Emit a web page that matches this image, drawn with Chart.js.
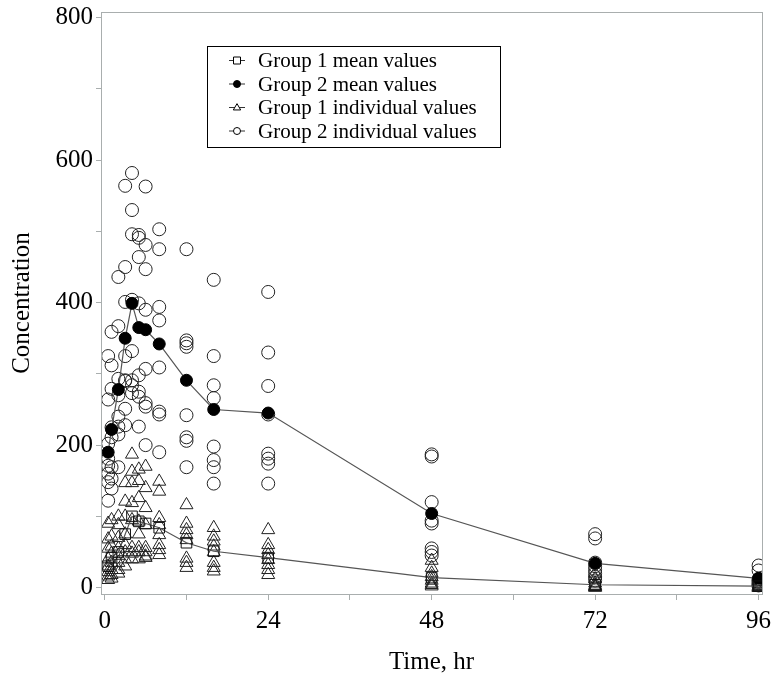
<!DOCTYPE html>
<html>
<head>
<meta charset="utf-8">
<script src="https://cdn.jsdelivr.net/npm/chart.js@4/dist/chart.umd.min.js"></script>
<style>
  html, body { margin: 0; padding: 0; background: #fff; }
  #wrap { width: 774px; height: 681px; }
</style>
</head>
<body>
<div id="wrap"><canvas id="grafico" width="774" height="681"></canvas></div>
<script>
// sampling times, hr
var tiempos = [0.5, 1, 2, 3, 4, 5, 6, 8, 12, 16, 24, 48, 72, 96];

// mean curves
var mediaGrupo1 = [30, 42, 50, 75, 100, 93, 90, 84, 63, 51, 42, 14, 4, 2];
var mediaGrupo2 = [190, 222, 278, 350, 399, 365, 362, 342, 291, 250, 245, 104, 34, 13];

// individual values, one row per sampling time
var indivGrupo1 = [
  [90, 68, 55, 40, 30, 22, 16, 11],
  [95, 72, 58, 48, 35, 25, 18, 13],
  [100, 88, 70, 55, 45, 35, 25, 20],
  [147, 121, 100, 75, 60, 50, 40, 30],
  [187, 163, 147, 119, 95, 56, 48, 40],
  [166, 150, 126, 93, 75, 56, 50, 40],
  [170, 140, 112, 88, 56, 50, 44, 42],
  [149, 135, 98, 88, 74, 60, 53, 46],
  [116, 90, 81, 74, 67, 41, 35, 28],
  [84, 72, 65, 58, 50, 35, 28, 23],
  [81, 60, 53, 46, 39, 32, 25, 18],
  [38, 28, 20, 15, 10, 6, 4, 2],
  [20, 12, 6, 3, 2, 1, 1, 0],
  [8, 5, 3, 2, 1, 1, 0, 0]
];
var indivGrupo2 = [
  [325, 264, 202, 181, 171, 160, 148, 122],
  [359, 312, 279, 225, 211, 169, 153, 139],
  [436, 367, 293, 270, 240, 226, 215, 169],
  [564, 450, 401, 325, 291, 290, 251, 228],
  [582, 530, 496, 404, 332, 291, 284, 273],
  [495, 491, 464, 399, 298, 275, 268, 226],
  [563, 481, 447, 390, 307, 259, 254, 200],
  [503, 475, 394, 375, 309, 247, 243, 190],
  [475, 347, 343, 338, 242, 211, 206, 169],
  [432, 325, 284, 266, 198, 179, 169, 146],
  [415, 330, 283, 243, 188, 181, 174, 146],
  [187, 184, 120, 94, 90, 55, 50, 45],
  [75, 69, 35, 30, 25, 20, 15, 10],
  [31, 24, 12, 10, 8, 6, 4, 3]
];

// labelled ticks
var ticksX = [0, 24, 48, 72, 96];
var ticksY = [0, 200, 400, 600, 800];

var fuente = 'Liberation Serif';
var gris = '#a9aeae';

function curva(valores) {
  return tiempos.map(function(t, i) { return {x: t, y: valores[i]}; });
}
function nube(filas) {
  var out = [];
  for (var i = 0; i < tiempos.length; i++) {
    for (var j = 0; j < filas[i].length; j++) out.push({x: tiempos[i], y: filas[i][j]});
  }
  return out;
}

function marcador(ctx, estilo, x, y, r, relleno) {
  ctx.beginPath();
  if (estilo === 'rect') {
    ctx.rect(x - r, y - r, 2 * r, 2 * r);
  } else if (estilo === 'triangle') {
    ctx.moveTo(x, y - r * 1.1);
    ctx.lineTo(x + r * 1.05, y + r * 0.7);
    ctx.lineTo(x - r * 1.05, y + r * 0.7);
    ctx.closePath();
  } else {
    ctx.arc(x, y, r, 0, Math.PI * 2);
  }
  ctx.fillStyle = relleno;
  ctx.fill();
  ctx.strokeStyle = '#000';
  ctx.lineWidth = 1;
  ctx.stroke();
}

// frame round the plot and the boxed legend
var marco = {
  id: 'marco',
  afterDraw: function(chart) {
    var a = chart.chartArea;
    var ctx = chart.ctx;
    ctx.save();
    ctx.strokeStyle = gris;
    ctx.lineWidth = 1;
    ctx.strokeRect(Math.round(a.left) + 0.5, Math.round(a.top) + 0.5,
                   Math.round(a.right - a.left), Math.round(a.bottom - a.top));

    ctx.strokeStyle = '#000';
    ctx.strokeRect(207.5, 46.5, 293, 101);
    var filas = [60, 83.5, 107, 130.5];
    chart.data.datasets.forEach(function(ds, i) {
      var y = filas[i];
      ctx.strokeStyle = '#333';
      ctx.lineWidth = 1;
      ctx.beginPath();
      ctx.moveTo(229, y + 0.5);
      ctx.lineTo(245, y + 0.5);
      ctx.stroke();
      marcador(ctx, ds.pointStyle, 237, y + 0.5, 3.5, ds.pointBackgroundColor === '#000' ? '#000' : '#fff');
      ctx.fillStyle = '#000';
      ctx.font = '21px "' + fuente + '"';
      ctx.textBaseline = 'alphabetic';
      ctx.textAlign = 'left';
      ctx.fillText(ds.label, 258, y + 7);
    });
    ctx.restore();
  }
};

var ctxG = document.getElementById('grafico').getContext('2d');
var grafico = new Chart(ctxG, {
  type: 'scatter',
  data: {
    datasets: [
      {
        label: 'Group 1 mean values',
        data: curva(mediaGrupo1),
        showLine: true,
        borderColor: '#555',
        borderWidth: 1.2,
        pointStyle: 'rect',
        pointRadius: 7.5,
        pointBorderWidth: 1,
        pointBorderColor: '#111',
        pointBackgroundColor: 'rgba(0,0,0,0)'
      },
      {
        label: 'Group 2 mean values',
        data: curva(mediaGrupo2),
        showLine: true,
        borderColor: '#555',
        borderWidth: 1.2,
        pointStyle: 'circle',
        pointRadius: 6,
        pointBorderWidth: 1,
        pointBorderColor: '#000',
        pointBackgroundColor: '#000'
      },
      {
        label: 'Group 1 individual values',
        data: nube(indivGrupo1),
        pointStyle: 'triangle',
        pointRadius: 7.5,
        pointBorderWidth: 1,
        pointBorderColor: '#222',
        pointBackgroundColor: 'rgba(0,0,0,0)'
      },
      {
        label: 'Group 2 individual values',
        data: nube(indivGrupo2),
        pointStyle: 'circle',
        pointRadius: 6.5,
        pointBorderWidth: 1,
        pointBorderColor: '#222',
        pointBackgroundColor: 'rgba(0,0,0,0)'
      }
    ]
  },
  options: {
    responsive: false,
    animation: false,
    devicePixelRatio: 1,
    layout: { padding: { top: 12, right: 12, left: 0, bottom: 0 } },
    plugins: {
      legend: { display: false },
      tooltip: { enabled: false }
    },
    scales: {
      x: {
        type: 'linear',
        min: -0.55,
        max: 96.5,
        border: { display: false },
        grid: { drawOnChartArea: false, tickLength: 6, color: gris },
        ticks: {
          stepSize: 12,
          includeBounds: false,
          autoSkip: false,
          maxRotation: 0,
          padding: 6,
          color: '#000',
          font: { family: fuente, size: 25 },
          callback: function(v) { return ticksX.indexOf(v) >= 0 ? String(v) : ''; }
        },
        title: {
          display: true,
          text: 'Time, hr',
          color: '#000',
          font: { family: fuente, size: 25 },
          padding: { top: 0, bottom: 4 }
        },
        afterFit: function(s) { s.height = 87; s.paddingLeft = 0; s.paddingRight = 0; }
      },
      y: {
        type: 'linear',
        min: -9,
        max: 808,
        border: { display: false },
        grid: { drawOnChartArea: false, tickLength: 5, color: gris },
        ticks: {
          stepSize: 100,
          includeBounds: false,
          autoSkip: false,
          padding: 3,
          color: '#000',
          font: { family: fuente, size: 25 },
          callback: function(v) { return ticksY.indexOf(v) >= 0 ? String(v) : ''; }
        },
        title: {
          display: true,
          text: 'Concentration',
          color: '#000',
          font: { family: fuente, size: 25 },
          padding: { top: 7, bottom: 0 }
        },
        afterFit: function(s) { s.width = 101; s.paddingTop = 0; s.paddingBottom = 0; }
      }
    }
  },
  plugins: [marco]
});
</script>
</body>
</html>
